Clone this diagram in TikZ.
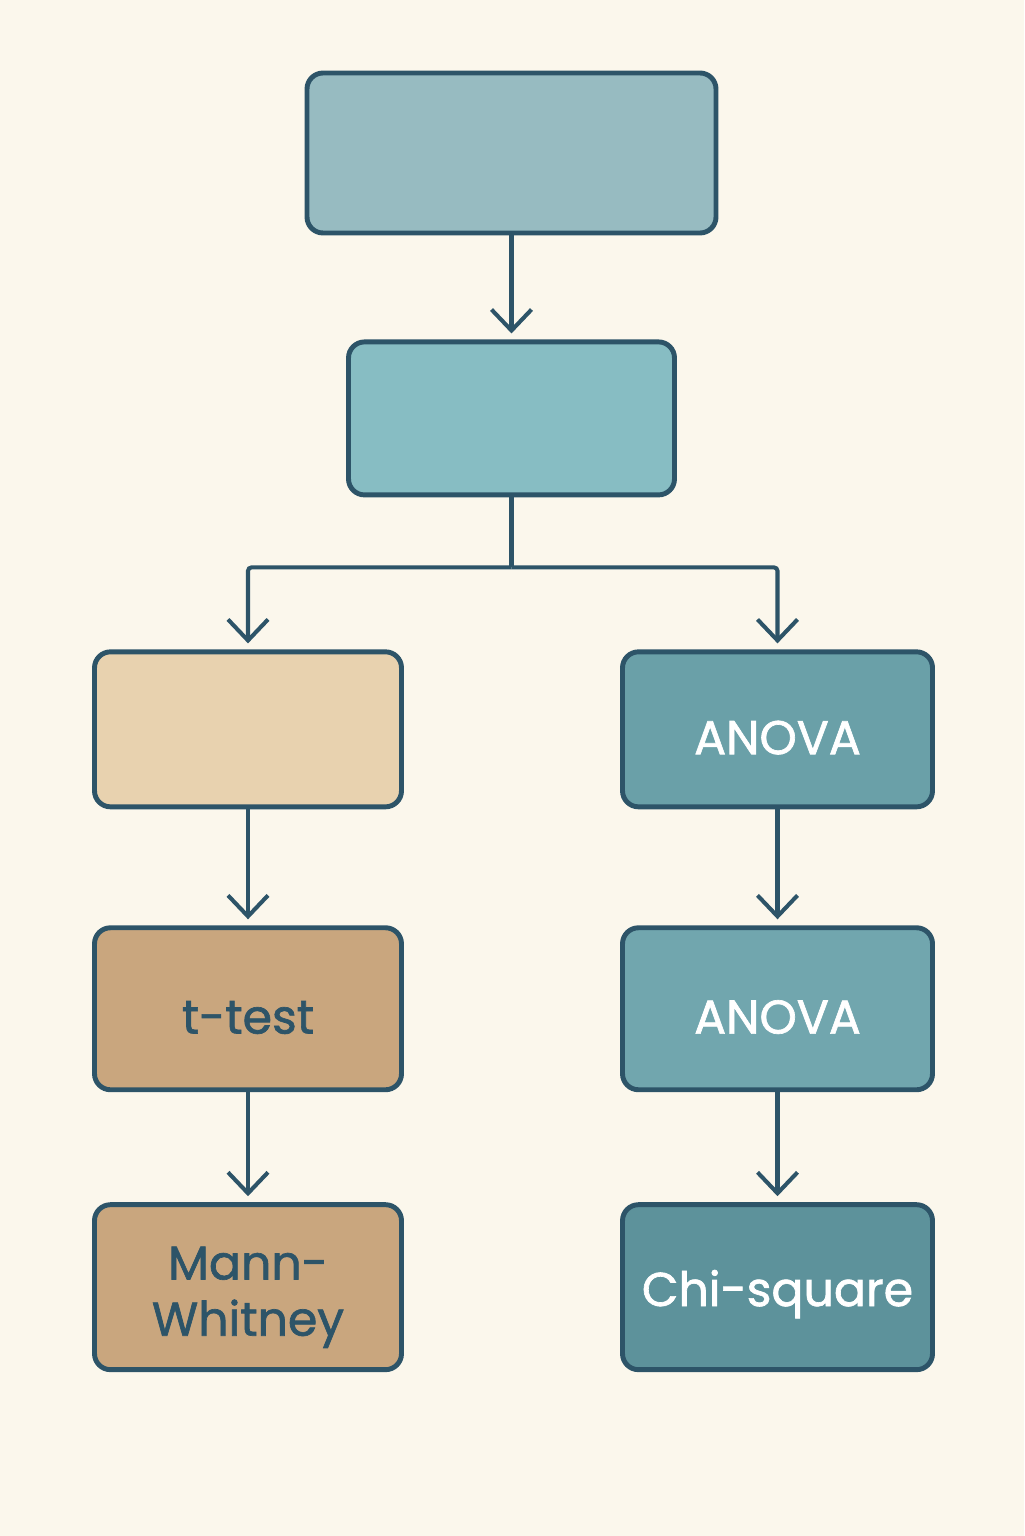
\documentclass[tikz,border=0pt]{standalone}
\usepackage{fontspec}
\setmainfont{Poppins}
\newfontfamily\boxfont{Poppins}[RawFeature={embolden=1.4}]
\usetikzlibrary{positioning, arrows.meta, calc}
\definecolor{bgcol}{HTML}{FBF7EC}
\definecolor{edgecol}{HTML}{2D5468}
\definecolor{fillA}{HTML}{97BBC1}
\definecolor{fillB}{HTML}{87BDC3}
\definecolor{fillC}{HTML}{E8D2AF}
\definecolor{fillD}{HTML}{6AA0A8}
\definecolor{fillE}{HTML}{C9A67E}
\definecolor{fillF}{HTML}{71A6AE}
\definecolor{fillG}{HTML}{5D929B}
\tikzset{
    box/.style={draw=edgecol, line width=2.8pt, rounded corners=0.32cm, align=center,
      minimum width=6.14cm, minimum height=3.1cm, inner sep=0pt,
      font=\boxfont\fontsize{27}{32}\selectfont,
      execute at begin node={\rule{0pt}{1cm}}},
    darktext/.style={text=edgecol},
    lighttext/.style={text=white},
}

\begin{document}
\begin{tikzpicture}
    \tikzset{
      link/.style={draw=edgecol, line width=2.3pt},
      arr/.style={link, -{Straight Barb[length=0.42cm, width=0.8cm, line width=2.3pt]}, shorten >=0.12cm},
    }
    \fill[bgcol] (0,0) rectangle (20.48,-30.72);
    \useasboundingbox (0,0) rectangle (20.48,-30.72);

    \node[box, fill=fillA, minimum width=8.18cm, minimum height=3.2cm] (b0) at (10.23,-3.06) {};
    \node[box, fill=fillB, minimum width=6.52cm, minimum height=3.06cm, below=2.08cm of b0] (b1) {};

    \node[box, fill=fillC, below=3.04cm of b1, xshift=-5.27cm] (b2) {};
    \node[box, fill=fillD, lighttext, minimum width=6.2cm, below=3.04cm of b1, xshift=5.32cm] (b3) {ANOVA};

    \node[box, fill=fillE, darktext, minimum height=3.24cm, below=2.32cm of b2] (b4) {t-test};
    \node[box, fill=fillF, lighttext, minimum width=6.2cm, minimum height=3.24cm, below=2.32cm of b3] (b5) {ANOVA};

    \node[box, fill=fillE, darktext, minimum height=3.3cm, below=2.2cm of b4] (b6) {\rule{0pt}{1.06cm}Mann-\\Whitney};
    \node[box, fill=fillG, lighttext, minimum width=6.2cm, minimum height=3.3cm, below=2.2cm of b5] (b7) {Chi-square};

    \draw[arr] (b0) -- (b1);
    \coordinate (split) at ($(b1.south)+(0,-1.4)$);
    \draw[link] (b1) -- (split);
    \draw[arr, rounded corners=2pt] (split) -| (b2);
    \draw[arr, rounded corners=2pt] (split) -| (b3);
    \draw[arr] (b2) -- (b4);
    \draw[arr] (b3) -- (b5);
    \draw[arr] (b4) -- (b6);
    \draw[arr] (b5) -- (b7);
  \end{tikzpicture}
\end{document}
